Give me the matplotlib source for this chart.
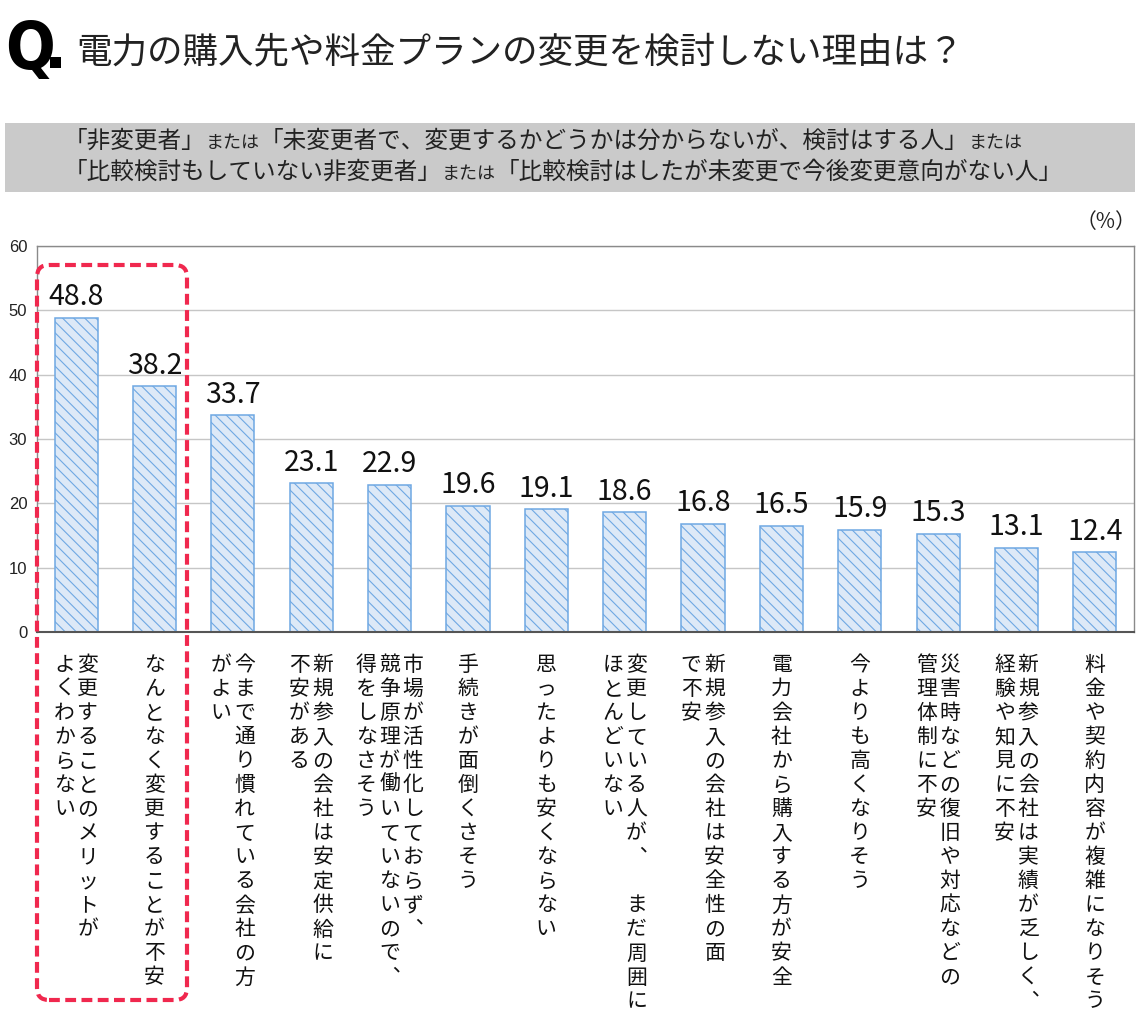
import matplotlib
matplotlib.use("Agg")
import matplotlib.pyplot as plt
from matplotlib.patches import FancyBboxPatch, Rectangle
from matplotlib.transforms import IdentityTransform, blended_transform_factory

plt.rcParams['font.family'] = ['Noto Sans CJK JP', 'DejaVu Sans']
plt.rcParams['hatch.linewidth'] = 0.8

W, H = 1140, 1014

TITLE = "電力の購入先や料金プランの変更を検討しない理由は？"
# 条件文：(文字列, 小さいか)
SUB_LINE1 = [("「非変更者」", False), ("または", True),
             ("「未変更者で、変更するかどうかは分からないが、検討はする人」", False), ("または", True)]
SUB_LINE2 = [("「比較検討もしていない非変更者」", False), ("または", True),
             ("「比較検討はしたが未変更で今後変更意向がない人」", False)]

# 縦書きラベル（1行目が右の列）
labels = [
    ["変更することのメリットが", "よくわからない"],
    ["なんとなく変更することが不安"],
    ["今まで通り慣れている会社の方", "がよい"],
    ["新規参入の会社は安定供給に", "不安がある"],
    ["市場が活性化しておらず、", "競争原理が働いていないので、", "得をしなさそう"],
    ["手続きが面倒くさそう"],
    ["思ったよりも安くならない"],
    ["変更している人が、　まだ周囲に", "ほとんどいない"],
    ["新規参入の会社は安全性の面", "で不安"],
    ["電力会社から購入する方が安全"],
    ["今よりも高くなりそう"],
    ["災害時などの復旧や対応などの", "管理体制に不安"],
    ["新規参入の会社は実績が乏しく、", "経験や知見に不安"],
    ["料金や契約内容が複雑になりそう"],
]
values = [48.8, 38.2, 33.7, 23.1, 22.9, 19.6, 19.1, 18.6, 16.8, 16.5, 15.9, 15.3, 13.1, 12.4]
yticks = [0, 10, 20, 30, 40, 50, 60]


def px(x, y):
    # 画像座標(左上原点)を図の比率に
    return x / W, 1 - y / H


def draw_runs(fig, x, y, runs, big, small):
    # サイズ違いの文字列を左から順に並べる
    r = fig.canvas.get_renderer()
    for s, is_small in runs:
        t = fig.text(x / W, 1 - y / H, s, fontsize=small if is_small else big,
                     va='baseline', ha='left', color='#222222')
        x += t.get_window_extent(r).width


def vertical(s):
    # 縦書き用の読点
    return "\n".join(s.replace("、", "︑"))


fig = plt.figure(figsize=(W / 100, H / 100), dpi=100)

# タイトル
fig.text(*px(5, 69), "Q", fontsize=47, fontweight='heavy', fontstretch='condensed',
         family=['DejaVu Sans'], va='baseline', ha='left')
fig.patches.append(Rectangle((50, H - 68), 11, 11, transform=IdentityTransform(),
                             facecolor='black', edgecolor='none', zorder=5))
fig.text(*px(76, 52), TITLE, fontsize=25.6, va='center', ha='left', color='#222222')

# 灰色の帯
fig.patches.append(Rectangle((5, H - 192), 1130, 69, transform=IdentityTransform(),
                             facecolor='#cacaca', edgecolor='none', zorder=0))
draw_runs(fig, 64, 148, SUB_LINE1, 17, 13)
draw_runs(fig, 64, 179, SUB_LINE2, 17, 13)

fig.text(*px(1136, 222), "（%）", fontsize=15, va='center', ha='right', color='#222222')

# グラフ本体
ax = fig.add_axes([37 / W, 1 - 632 / H, (1134 - 37) / W, (632 - 246) / H])
x = list(range(len(values)))
ax.bar(x, values, width=0.55, facecolor='#dde9f7', edgecolor='#6fa8e3',
       linewidth=1.1, hatch='\\\\\\', zorder=2)
for xi, v in zip(x, values):
    ax.annotate(f"{v:.1f}", (xi, v), xytext=(0, 4), textcoords='offset points',
                ha='center', va='bottom', fontsize=20.5, color='#111111')

ax.set_xlim(-0.5, len(values) - 0.5)
ax.set_ylim(0, 60)
ax.set_yticks(yticks)
ax.set_yticklabels([str(t) for t in yticks], family=['Liberation Sans', 'DejaVu Sans'],
                   fontsize=12, color='#222222')
ax.tick_params(axis='y', length=0, pad=7)
ax.set_xticks([])
ax.grid(axis='y', color='#c6c6c6', linewidth=1.0, zorder=0)
ax.set_axisbelow(True)
for side in ['top', 'right', 'left']:
    ax.spines[side].set_color('#8a8a8a')
    ax.spines[side].set_linewidth(1.0)
ax.spines['bottom'].set_color('#555555')
ax.spines['bottom'].set_linewidth(1.5)

# 縦書きのカテゴリ名
trans = blended_transform_factory(ax.transData, fig.transFigure)
col_gap = 23.5 / 78.4
for xi, lines in zip(x, labels):
    n = len(lines)
    for j, line in enumerate(lines):
        cx = xi + ((n - 1) / 2 - j) * col_gap
        ax.text(cx, 1 - 654 / H, vertical(line), transform=trans, ha='center', va='top',
                fontsize=15, linespacing=1.12, color='#111111', clip_on=False)

# 赤い点線の枠
fig.patches.append(FancyBboxPatch((37, H - 1000), 150, 735,
                                  boxstyle="round,pad=0,rounding_size=12",
                                  transform=IdentityTransform(), facecolor='none',
                                  edgecolor='#f0284e', linewidth=3.0,
                                  linestyle=(0, (2.6, 1.3)), zorder=10))

fig.savefig("out.png", dpi=100)
